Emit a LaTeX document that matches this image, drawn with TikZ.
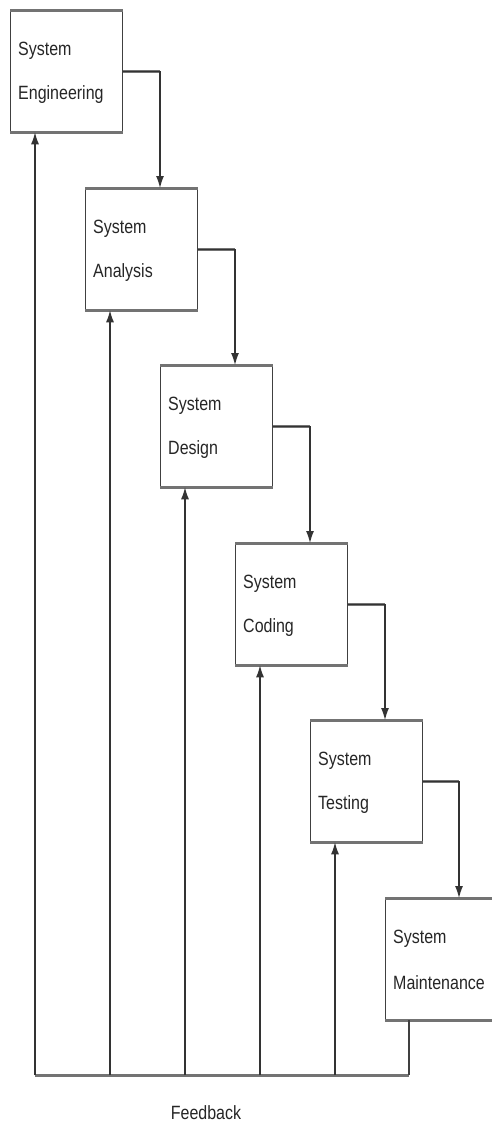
\documentclass[tikz,border=0pt]{standalone}
\usepackage{graphicx}
\usepackage{fontspec}
\setmainfont{Liberation Sans}
\usetikzlibrary{arrows.meta,calc}
\newcommand\vstretch[1]{\scalebox{1}[1.2]{#1}}
\begin{document}
\begin{tikzpicture}[x=1pt,y=-1pt,
  box/.style={draw=black!75, line width=1.3pt, minimum width=112pt, minimum height=121pt, anchor=north west, inner sep=0pt, fill=white},
  bar/.style={draw=black!55, line width=3pt},
  lbl/.style={anchor=west, inner sep=0pt, text=black!85, font=\fontsize{16}{16}\selectfont},
  conn/.style={draw=black!80, line width=1.2pt, -{Latex[length=12pt,width=8pt]}},
  hconn/.style={draw=black!55, line width=3pt},
  line/.style={draw=black!75, line width=1.2pt}]
\useasboundingbox (0,0) rectangle (492,1130);

% boxes
\node[box] (b1) at (10,10) {};
\node[box] (b2) at (85,188) {};
\node[box] (b3) at (160,365) {};
\node[box] (b4) at (235,543) {};
\node[box] (b5) at (310,720) {};
\node[box] (b6) at (385,898) {};

\foreach \b in {b1,b2,b3,b4,b5,b6}{
  \draw[bar] (\b.north west) -- (\b.north east);
  \draw[bar] (\b.south west) -- (\b.south east);
}

% labels
\node[lbl] (b1a) at ([xshift=8pt,yshift=-41pt]b1.north west) {\vstretch{System}};
\node[lbl] (b1b) at ([xshift=8pt,yshift=-85pt]b1.north west) {\vstretch{Engineering}};
\node[lbl] (b2a) at ([xshift=8pt,yshift=-41pt]b2.north west) {\vstretch{System}};
\node[lbl] (b2b) at ([xshift=8pt,yshift=-85pt]b2.north west) {\vstretch{Analysis}};
\node[lbl] (b3a) at ([xshift=8pt,yshift=-41pt]b3.north west) {\vstretch{System}};
\node[lbl] (b3b) at ([xshift=8pt,yshift=-85pt]b3.north west) {\vstretch{Design}};
\node[lbl] (b4a) at ([xshift=8pt,yshift=-41pt]b4.north west) {\vstretch{System}};
\node[lbl] (b4b) at ([xshift=8pt,yshift=-85pt]b4.north west) {\vstretch{Coding}};
\node[lbl] (b5a) at ([xshift=8pt,yshift=-41pt]b5.north west) {\vstretch{System}};
\node[lbl] (b5b) at ([xshift=8pt,yshift=-85pt]b5.north west) {\vstretch{Testing}};
\node[lbl] (b6a) at ([xshift=8pt,yshift=-41pt]b6.north west) {\vstretch{System}};
\node[lbl] (b6b) at ([xshift=8pt,yshift=-85pt]b6.north west) {\vstretch{Maintenance}};

% forward connectors
\coordinate (c2) at ([xshift=75pt]b2.north west);
\coordinate (c3) at ([xshift=75pt]b3.north west);
\coordinate (c4) at ([xshift=75pt]b4.north west);
\coordinate (c5) at ([xshift=75pt]b5.north west);
\coordinate (c6) at ([xshift=74pt]b6.north west);
\draw[hconn] (b1.east) -- (b1.east -| c2);
\draw[hconn] (b2.east) -- (b2.east -| c3);
\draw[hconn] (b3.east) -- (b3.east -| c4);
\draw[hconn] (b4.east) -- (b4.east -| c5);
\draw[hconn] (b5.east) -- (b5.east -| c6);
\draw[conn] (b1.east) -| (c2);
\draw[conn] (b2.east) -| (c3);
\draw[conn] (b3.east) -| (c4);
\draw[conn] (b4.east) -| (c5);
\draw[conn] (b5.east) -| (c6);

% feedback
\coordinate (f1) at (35,1075);
\coordinate (f2) at (110,1075);
\coordinate (f3) at (185,1075);
\coordinate (f4) at (260,1075);
\coordinate (f5) at (335,1075);
\coordinate (f6) at (409,1075);
\draw[hconn] (f1) -- (f6);
\draw[line] (b6.south -| f6) -- (f6);
\draw[conn] (f1) -- (f1 |- b1.south);
\draw[conn] (f2) -- (f2 |- b2.south);
\draw[conn] (f3) -- (f3 |- b3.south);
\draw[conn] (f4) -- (f4 |- b4.south);
\draw[conn] (f5) -- (f5 |- b5.south);
\node[lbl, anchor=center] (fbl) at (206,1113) {\vstretch{Feedback}};
\end{tikzpicture}
\end{document}
